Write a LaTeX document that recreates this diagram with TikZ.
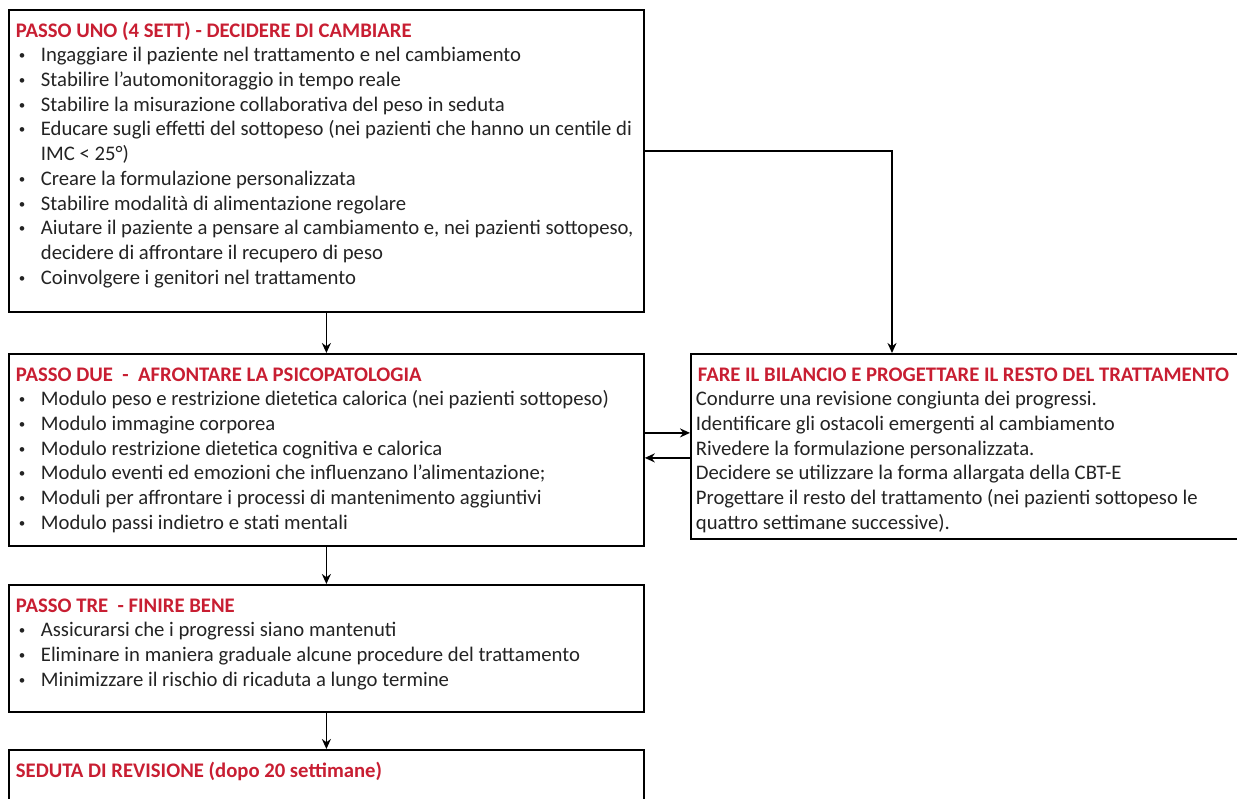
\documentclass[tikz,border=0pt]{standalone}
\usepackage{fontspec}
\setmainfont{Carlito}
\usepackage{xcolor}
\usepackage{tikz}
\usetikzlibrary{arrows.meta}
\usetikzlibrary{shapes,arrows}
\definecolor{rosso}{RGB}{200,30,50}
\definecolor{testo}{RGB}{35,35,35}
\tikzstyle{freccia} = [line width=1.8pt,->,>={Stealth[length=10pt,width=9pt]}]
\tikzstyle{passo} = [draw, line width=1.8pt, anchor=north west, inner xsep=5pt, inner ysep=0pt, text=testo, font=\fontsize{20.7}{24.7}\selectfont]

\newcommand{\titolo}[1]{\noindent\hspace*{2pt}\mbox{\strut\color{rosso}\bfseries #1}\par}
\newcommand{\voce}[1]{\hangindent=27pt\hangafter=1\noindent\makebox[27pt][l]{\hspace{5pt}\raisebox{2pt}{\fontsize{13}{13}\selectfont\textbullet}}#1\par}
\newcommand{\riquadro}[3]{\parbox[t][#2][t]{#1}{\raggedright\vspace*{10pt}#3}}

\begin{document}
\begin{tikzpicture}[x=1pt, y=-1pt]
\useasboundingbox (0,0) rectangle (1237,799);

\node[passo] (uno) at (8,9) {\riquadro{625pt}{302pt}{%
  \titolo{PASSO UNO (4 SETT) - DECIDERE DI CAMBIARE}
  \voce{Ingaggiare il paziente nel trattamento e nel cambiamento}
  \voce{Stabilire l’automonitoraggio in tempo reale}
  \voce{Stabilire la misurazione collaborativa del peso in seduta}
  \voce{Educare sugli effetti del sottopeso (nei pazienti che hanno un centile di\newline IMC < 25°)}
  \voce{Creare la formulazione personalizzata}
  \voce{Stabilire modalità di alimentazione regolare}
  \voce{Aiutare il paziente a pensare al cambiamento e, nei pazienti sottopeso,\newline decidere di affrontare il recupero di peso}
  \voce{Coinvolgere i genitori nel trattamento}}};

\node[passo] (due) at (8,353) {\riquadro{625pt}{192pt}{%
  \titolo{PASSO DUE \ - \ AFRONTARE LA PSICOPATOLOGIA}
  \voce{Modulo peso e restrizione dietetica calorica (nei pazienti sottopeso)}
  \voce{Modulo immagine corporea}
  \voce{Modulo restrizione dietetica cognitiva e calorica}
  \voce{Modulo eventi ed emozioni che influenzano l’alimentazione;}
  \voce{Moduli per affrontare i processi di mantenimento aggiuntivi}
  \voce{Modulo passi indietro e stati mentali}}};

\node[passo] (bilancio) at (690,353) {\riquadro{560pt}{185pt}{%
  \titolo{FARE IL BILANCIO E PROGETTARE IL RESTO DEL TRATTAMENTO}
  Condurre una revisione congiunta dei progressi.\par
  Identificare gli ostacoli emergenti al cambiamento\par
  Rivedere la formulazione personalizzata.\par
  Decidere se utilizzare la forma allargata della CBT-E\par
  Progettare il resto del trattamento (nei pazienti sottopeso le\newline quattro settimane successive).\par}};

\node[passo] (tre) at (8,584) {\riquadro{625pt}{127pt}{%
  \titolo{PASSO TRE \ - FINIRE BENE}
  \voce{Assicurarsi che i progressi siano mantenuti}
  \voce{Eliminare in maniera graduale alcune procedure del trattamento}
  \voce{Minimizzare il rischio di ricaduta a lungo termine}}};

\node[passo] (revisione) at (8,749) {\riquadro{625pt}{110pt}{%
  \titolo{SEDUTA DI REVISIONE (dopo 20 settimane)}}};

% connessioni
\draw[freccia] (uno.south) -- (due.north);
\draw[freccia] ([yshift=10pt]uno.east) -| ([xshift=202pt]bilancio.north west);
\draw[freccia] ([yshift=17pt]due.east) -- ([yshift=17pt]due.east -| bilancio.west);
\draw[freccia] ([yshift=-8pt]due.east -| bilancio.west) -- ([yshift=-8pt]due.east);
\draw[freccia] (due.south) -- (tre.north);
\draw[freccia] (tre.south) -- (revisione.north);
\end{tikzpicture}
\end{document}
